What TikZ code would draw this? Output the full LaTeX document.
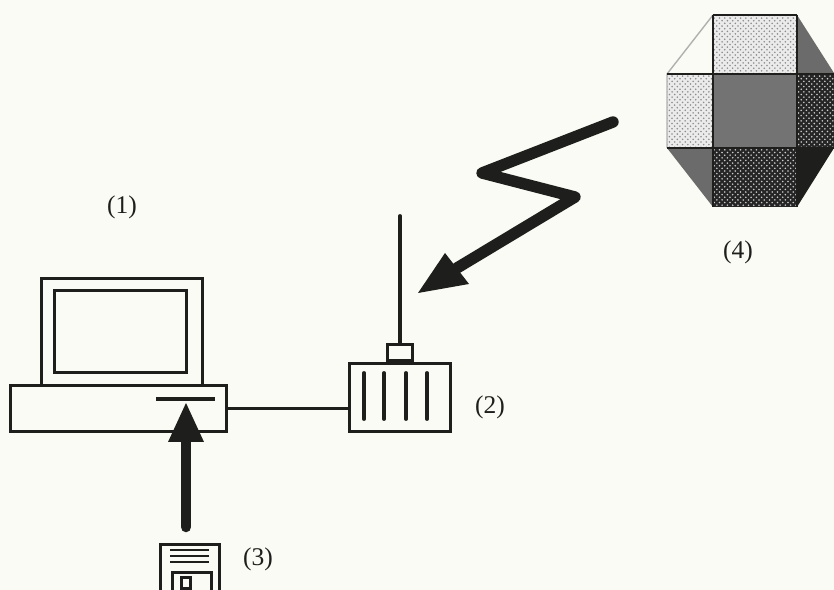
\documentclass[tikz,border=0pt]{standalone}
\usepackage{fontspec}
\setmainfont{Liberation Serif}
\usepackage{tikz}
\usetikzlibrary{patterns}
\definecolor{paper}{RGB}{251,251,245}
\definecolor{ink}{RGB}{30,30,28}
\tikzset{
  outline/.style={draw=ink,line width=1.5pt},
  slot/.style={draw=ink,line width=2.2pt},
  tag/.style={text=ink,font=\fontsize{14.5}{16}\selectfont,inner sep=0pt},
  bolt/.style={draw=ink,line width=6.5pt,line cap=round,line join=round},
  lightdots/.style={fill=black!8,postaction={pattern=crosshatch dots,pattern color=black!45}},
  darkdots/.style={fill=black!85,postaction={pattern=crosshatch dots,pattern color=white!80!black}}
}
\begin{document}
\begin{tikzpicture}[x=0.02cm,y=-0.02cm]
\fill [paper] (0,0) rectangle (834,590);
\useasboundingbox (0,0) rectangle (834,590);
\clip (0,0) rectangle (834,590);

%computer
\node [outline,fill=paper,minimum width=3.22cm,minimum height=2.14cm,inner sep=0pt,anchor=north west] (screenbox) at (40,277) {};
\node [outline,minimum width=2.64cm,minimum height=1.64cm,inner sep=0pt,anchor=north west] (screen) at (53,289) {};
\node [outline,fill=paper,minimum width=4.32cm,minimum height=0.92cm,inner sep=0pt,anchor=north west] (base) at (9,384) {};
\coordinate (drivea) at (156,399);
\coordinate (driveb) at (215,399);
\draw [draw=ink,line width=2pt] (drivea) -- (driveb);

%receiver
\node [outline,fill=paper,minimum width=2.02cm,minimum height=1.36cm,inner sep=0pt,anchor=north west] (radio) at (348,362) {};
\node [outline,fill=paper,minimum width=0.5cm,minimum height=0.32cm,inner sep=0pt,anchor=south] (plug) at (400,362) {};
\coordinate (aerial) at (400,216);
\draw [draw=ink,line width=2.2pt,line cap=round] (plug) -- (aerial);
\foreach \px in {364,384,406,427}{
  \draw [slot,line cap=round] (\px,373) -- (\px,419);
}
\draw [outline] (base.east) -- (radio.west |- base.east);

%disk
\node [outline,fill=paper,minimum width=1.18cm,minimum height=1.8cm,inner sep=0pt,anchor=north west] (disk) at (159,543) {};
\foreach \py in {550,556,562}{
  \draw [draw=ink,line width=1.1pt] (170,\py) -- (209,\py);
}
\node [outline,minimum width=0.78cm,minimum height=1cm,inner sep=0pt,anchor=north west] (shutter) at (171,571) {};
\node [outline,minimum width=0.18cm,minimum height=0.22cm,inner sep=0pt,anchor=north west] (notch) at (180,576) {};

%arrow disk to computer
\coordinate (tail) at (186,527);
\coordinate (neck) at (186,438);
\draw [draw=ink,line width=6pt,line cap=round] (tail) -- (neck);
\fill [ink] (186,403) -- (204,442) -- (168,442) -- cycle;

%satellite
\path [lightdots] (713,15) rectangle (797,74);
\fill [black!58] (797,15) -- (834,73) -- (797,74) -- cycle;
\path [lightdots] (667,74) rectangle (713,148);
\fill [black!55] (713,74) rectangle (797,148);
\path [darkdots] (797,74) rectangle (834,148);
\fill [black!58] (667,148) -- (713,148) -- (713,207) -- cycle;
\path [darkdots] (713,148) rectangle (797,207);
\fill [ink] (797,148) -- (834,148) -- (797,207) -- cycle;
\draw [draw=ink!35,line width=0.8pt] (713,15) -- (667,74) -- (667,148);
\draw [draw=ink,line width=1.2pt] (667,74) -- (834,74) (667,148) -- (834,148);
\draw [draw=ink,line width=1.2pt] (713,15) -- (713,207) (797,15) -- (797,207);
\draw [draw=ink,line width=1.5pt] (713,15) -- (797,15);

%lightning
\coordinate (b1) at (613,122);
\coordinate (b2) at (482,173);
\coordinate (b3) at (575,197);
\coordinate (b4) at (457,268);
\draw [bolt] (b1) -- (b2) -- (b3) -- (b4);
\fill [ink] (418,293) -- (445,253) -- (469,284) -- cycle;

%labels
\node [tag] (lab1) at (122,207) {(1)};
\node [tag] (lab2) at (490,407) {(2)};
\node [tag] (lab3) at (258,559) {(3)};
\node [tag] (lab4) at (738,252) {(4)};
\end{tikzpicture}
\end{document}
